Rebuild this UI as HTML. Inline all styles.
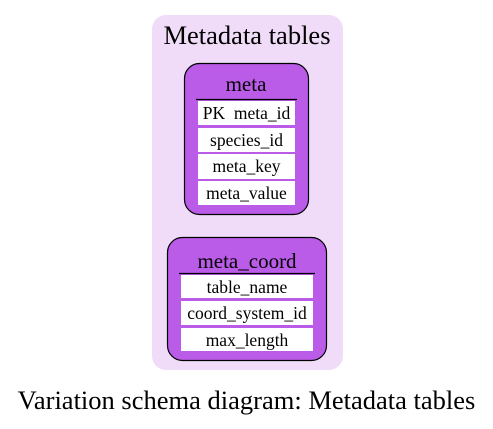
<!DOCTYPE html>
<html><head><meta charset="utf-8"><style>
body{margin:0;background:#fff;}
svg text{font-family:"Liberation Serif",serif;fill:#000;white-space:pre;}
</style></head><body>
<svg width="493" height="424" viewBox="0 0 493 424">
<g>
<rect x="152" y="15" width="191" height="355" rx="14" fill="#f0dcf8"/>
<text x="247" y="44" font-size="26.5" text-anchor="middle">Metadata tables</text>
</g>
<g>
<rect x="184.5" y="63.5" width="124" height="151" rx="15" fill="#bb5ce9" stroke="#000" stroke-width="1.2"/>
<text x="246" y="91" font-size="21" text-anchor="middle">meta</text>
<line x1="196" y1="99.5" x2="297" y2="99.5" stroke="#000" stroke-width="1.2"/>
<rect x="198" y="101" width="97" height="24" fill="#fff"/>
<text x="246.5" y="119" font-size="17.5" text-anchor="middle" xml:space="preserve">PK  meta_id</text>
<rect x="198" y="128" width="97" height="24" fill="#fff"/>
<text x="246.5" y="146" font-size="17.5" text-anchor="middle">species_id</text>
<rect x="198" y="154" width="97" height="25" fill="#fff"/>
<text x="246.5" y="172" font-size="17.5" text-anchor="middle">meta_key</text>
<rect x="198" y="181" width="97" height="24" fill="#fff"/>
<text x="246.5" y="199" font-size="17.5" text-anchor="middle">meta_value</text>
</g>
<g>
<rect x="167.5" y="237.5" width="159" height="123" rx="15" fill="#bb5ce9" stroke="#000" stroke-width="1.2"/>
<text x="247" y="268" font-size="21" text-anchor="middle">meta_coord</text>
<line x1="179" y1="273.5" x2="315" y2="273.5" stroke="#000" stroke-width="1.2"/>
<rect x="181" y="275" width="132" height="23" fill="#fff"/>
<text x="247" y="293" font-size="17.5" text-anchor="middle">table_name</text>
<rect x="181" y="301" width="132" height="24" fill="#fff"/>
<text x="247" y="319" font-size="17.5" text-anchor="middle">coord_system_id</text>
<rect x="181" y="328" width="132" height="23" fill="#fff"/>
<text x="247" y="346" font-size="17.5" text-anchor="middle">max_length</text>
</g>
<text x="246.5" y="409" font-size="26.5" text-anchor="middle">Variation schema diagram: Metadata tables</text>
</svg>
</body></html>
